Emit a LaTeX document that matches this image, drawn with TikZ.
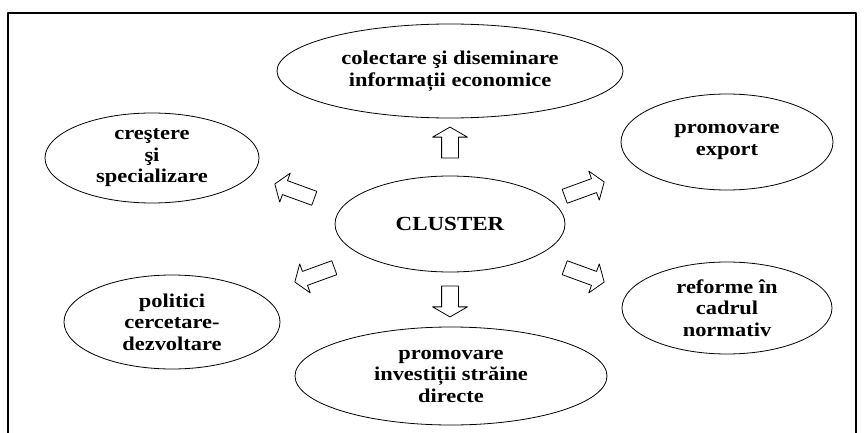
\documentclass[tikz,border=0pt]{standalone}
\usepackage{fontspec}
\setmainfont{Liberation Serif}[FakeStretch=1.15]
\usetikzlibrary{shapes.geometric,shapes.arrows}

\begin{document}
\begin{tikzpicture}[x=1pt,y=1pt,line cap=round,line join=round,
  oval/.style={draw,ellipse,inner sep=0pt,line width=0.8pt,align=center,
    font=\bfseries\fontsize{19.5}{21.5}\selectfont},
  bigarrow/.style={draw,single arrow,line width=0.8pt,inner xsep=0pt,inner ysep=8pt,
    single arrow head extend=9pt,single arrow tip angle=120,minimum height=31pt},
  sidearrow/.style={draw,single arrow,line width=0.8pt,inner xsep=0pt,inner ysep=7pt,
    single arrow head extend=8pt,single arrow tip angle=110,minimum height=42pt}]
\useasboundingbox (0,0) rectangle (867,432);
\draw[line width=1.2pt] (8,-10) -- (8,419) -- (856,419) -- (856,-10);
\node[oval,minimum width=346pt,minimum height=94pt] (info) at (450,361) {colectare şi diseminare\\informații economice};
\node[oval,minimum width=214pt,minimum height=90pt] (crestere) at (152,274) {creştere\\şi\\specializare};
\node[oval,minimum width=212pt,minimum height=96pt] (export) at (727,290) {promovare\\export};
\node[oval,minimum width=230pt,minimum height=96pt,font=\bfseries\fontsize{20}{24}\selectfont] (cluster) at (450,208) {CLUSTER};
\node[oval,minimum width=216pt,minimum height=94pt] (politici) at (172,110) {politici\\cercetare-\\dezvoltare};
\node[oval,minimum width=210pt,minimum height=92pt] (reforme) at (727,124) {reforme în\\cadrul\\normativ};
\node[oval,minimum width=312pt,minimum height=98pt] (investitii) at (451,56) {promovare\\investiții străine\\directe};
\node[bigarrow,rotate=90] (sus) at (450,287) {};
\node[bigarrow,rotate=-90] (jos) at (450,133) {};
\node[sidearrow,rotate=160] (stsus) at (297,240) {};
\node[sidearrow,rotate=200] (stjos) at (317,158) {};
\node[sidearrow,rotate=20] (drsus) at (582,242) {};
\node[sidearrow,rotate=-20] (drjos) at (582,158) {};
\end{tikzpicture}
\end{document}
